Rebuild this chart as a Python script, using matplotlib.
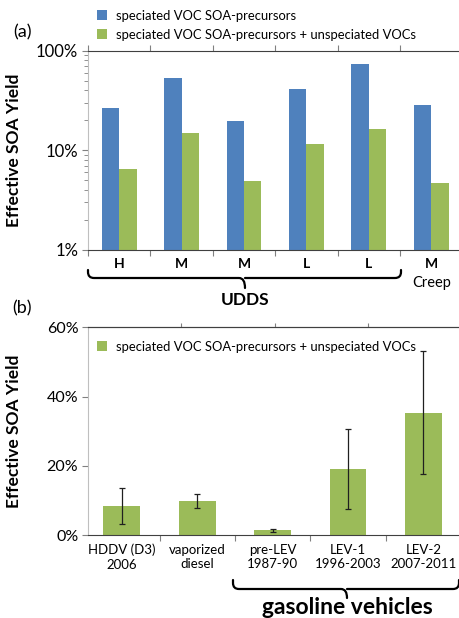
import numpy as np
import matplotlib
matplotlib.use('Agg')
import matplotlib.pyplot as plt
from matplotlib.path import Path
from matplotlib.patches import PathPatch
import matplotlib.ticker as mticker
import matplotlib.transforms as mtrans

plt.rcParams['font.family'] = ['Lato', 'DejaVu Sans']

# panel (a) data, effective SOA yield in %
cats_a = ['H', 'M', 'M', 'L', 'L', 'M']
speciated = [26.4, 53.6, 19.7, 41.0, 73.5, 28.5]
spec_unspec = [6.45, 15.0, 4.9, 11.6, 16.3, 4.7]

# panel (b) data
cats_b = ['HDDV (D3)\n2006', 'vaporized\ndiesel', 'pre-LEV\n1987-90',
          'LEV-1\n1996-2003', 'LEV-2\n2007-2011']
yield_b = [8.5, 9.9, 1.5, 19.0, 35.2]
err_lo = [3.2, 8.0, 1.05, 7.5, 17.6]
err_hi = [13.6, 11.8, 1.9, 30.6, 53.1]

BLUE = '#4F81BD'
GREEN = '#9BBB59'
W, H = 459, 618

fig = plt.figure(figsize=(W / 100, H / 100), dpi=100)


def fx(px):
    return px / W


def fy(py):
    return 1 - py / H


def brace(fig, x0, x1, xm, ytop, ybot, ytip, r=6):
    # curly brace in figure pixels (y downward)
    pts = [(x0, ytop), (x0, ybot - r), (x0, ybot), (x0 + r, ybot),
           (xm - r, ybot), (xm, ybot), (xm, ytip),
           (xm, ybot), (xm + r, ybot),
           (x1 - r, ybot), (x1, ybot), (x1, ybot - r), (x1, ytop)]
    codes = [Path.MOVETO, Path.LINETO, Path.CURVE3, Path.CURVE3,
             Path.LINETO, Path.CURVE3, Path.CURVE3,
             Path.MOVETO, Path.LINETO,
             Path.LINETO, Path.CURVE3, Path.CURVE3, Path.LINETO]
    verts = [(fx(a), fy(b)) for a, b in pts]
    p = PathPatch(Path(verts, codes), transform=fig.transFigure, fill=False,
                  lw=1.6, color='black', capstyle='round')
    fig.add_artist(p)


# ---------------- panel (a) ----------------
a_left, a_right = 88, 462.4
ax1 = fig.add_axes([fx(a_left), fy(250), fx(a_right - a_left), fy(50.7) - fy(250)])
x = np.arange(len(cats_a))
bw = 0.28
ax1.bar(x - bw / 2, speciated, bw, color=BLUE, label='speciated VOC SOA-precursors')
ax1.bar(x + bw / 2, spec_unspec, bw, color=GREEN,
        label='speciated VOC SOA-precursors + unspeciated VOCs')
ax1.set_yscale('log')
ax1.set_ylim(1, 100)
ax1.set_xlim(-0.5, len(cats_a) - 0.5)
ax1.yaxis.set_major_locator(mticker.FixedLocator([1, 10, 100]))
ax1.yaxis.set_major_formatter(mticker.FuncFormatter(lambda v, p: f'{v:g}%'))
ax1.yaxis.set_minor_locator(mticker.LogLocator(base=10, subs=np.arange(2, 10)))
ax1.yaxis.set_minor_formatter(mticker.NullFormatter())
ax1.set_xticks(np.arange(-0.5, len(cats_a)))
ax1.set_xticklabels([])
ax1.set_xticks(x, minor=True)
ax1.set_xticklabels(cats_a, minor=True, fontweight='bold', fontsize=10)
ax1.tick_params(axis='x', which='major', length=4, color='#808080', top=True)
ax1.tick_params(axis='x', which='minor', length=0, pad=6)
ax1.tick_params(axis='y', which='major', length=4, color='#808080', labelsize=12, pad=3)
ax1.tick_params(axis='y', which='minor', length=3, color='#808080')
ax1.spines['right'].set_visible(False)
ax1.spines['left'].set_color('#BFBFBF')
ax1.spines['bottom'].set_color('#404040')
ax1.spines['top'].set_color('#404040')
ax1.set_ylabel('Effective SOA Yield', fontweight='bold', fontsize=12.5)
ax1.yaxis.set_label_coords((22 - a_left) / (a_right - a_left), 0.5)
blend1 = mtrans.blended_transform_factory(ax1.transData, fig.transFigure)
ax1.text(x[-1], fy(283), 'Creep', transform=blend1, ha='center', va='center', fontsize=10.5)
fig.legend(loc='upper left', bbox_to_anchor=(fx(97), fy(10)), frameon=False,
           fontsize=9.4, handlelength=0.8, handleheight=0.8,
           handletextpad=0.65, labelspacing=0.5, borderpad=0, borderaxespad=0)
brace(fig, 88, 401, 245, 270, 278, 288)
fig.text(fx(245), fy(300), 'UDDS', ha='center', va='center', fontsize=12.5, fontweight='bold')
fig.text(fx(22), fy(32), '(a)', ha='center', va='center', fontsize=13)

# ---------------- panel (b) ----------------
b_left, b_right = 88, 461
ax2 = fig.add_axes([fx(b_left), fy(535.3), fx(b_right - b_left), fy(327.3) - fy(535.3)])
xb = np.arange(len(cats_b))
yerr = [np.array(yield_b) - np.array(err_lo), np.array(err_hi) - np.array(yield_b)]
ax2.bar(xb, yield_b, 0.49, color=GREEN,
        label='speciated VOC SOA-precursors + unspeciated VOCs')
ax2.errorbar(xb, yield_b, yerr=yerr, fmt='none', ecolor='#202020', elinewidth=0.9,
             capsize=2.5, capthick=0.9)
ax2.set_ylim(0, 60)
ax2.set_xlim(-0.45, 4.5)
ax2.yaxis.set_major_locator(mticker.MultipleLocator(20))
ax2.yaxis.set_major_formatter(mticker.FuncFormatter(lambda v, p: f'{v:g}%'))
ax2.set_xticks(np.arange(0.5, len(cats_b) - 1))
ax2.set_xticklabels([])
ax2.set_xticks(xb, minor=True)
ax2.set_xticklabels(cats_b, minor=True, fontsize=9.5, linespacing=1.25)
ax2.tick_params(axis='x', which='major', length=4, color='#808080')
ax2.tick_params(axis='x', which='minor', length=0, pad=6)
ax2.tick_params(axis='y', length=4, color='#808080', labelsize=11.5, pad=3)
ax2.spines['right'].set_visible(False)
ax2.spines['left'].set_color('#BFBFBF')
ax2.spines['bottom'].set_color('#404040')
ax2.spines['top'].set_color('#404040')
ax2.set_ylabel('Effective SOA Yield', fontweight='bold', fontsize=12.5)
ax2.yaxis.set_label_coords((22 - b_left) / (b_right - b_left), 0.5)
ax2t = ax2.twiny()
ax2t.set_xlim(0, 4)
ax2t.set_xticks([1, 2, 3])
ax2t.set_xticklabels([])
ax2t.tick_params(axis='x', length=3, color='#808080')
for s in ['left', 'right', 'bottom']:
    ax2t.spines[s].set_visible(False)
ax2t.spines['top'].set_color('#404040')
ax2.legend(loc='upper left', bbox_to_anchor=(fx(97), fy(341)),
           bbox_transform=fig.transFigure, frameon=False,
           fontsize=9.4, handlelength=0.8, handleheight=0.8,
           handletextpad=0.65, borderpad=0, borderaxespad=0)
brace(fig, 233, 459, 347, 580, 589, 598)
fig.text(fx(347), fy(597), 'gasoline vehicles', ha='center', va='top',
         fontsize=16.5, fontweight='bold')
fig.text(fx(22), fy(308), '(b)', ha='center', va='center', fontsize=13)

fig.savefig('out.png', dpi=100)
